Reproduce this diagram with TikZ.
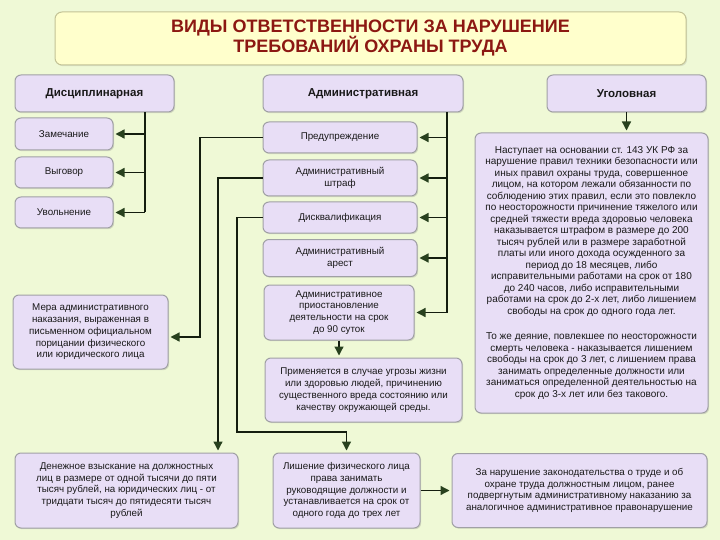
\documentclass[tikz,border=0pt]{standalone}
\usepackage{fontspec}
\setmainfont{Liberation Sans}
\usetikzlibrary{arrows.meta,shadows}
\definecolor{bgc}{RGB}{239,249,214}
\definecolor{titlefill}{RGB}{255,255,204}
\definecolor{titleborder}{RGB}{195,195,150}
\definecolor{titletext}{RGB}{140,24,18}
\definecolor{boxfill}{RGB}{232,222,246}
\definecolor{boxborder}{RGB}{160,160,165}
\definecolor{linec}{RGB}{20,30,15}
\definecolor{arrowc}{RGB}{40,65,30}
\definecolor{textc}{RGB}{25,25,25}
\tikzset{
  box/.style={draw=boxborder, fill=boxfill, line width=1pt, rounded corners=6pt,
    align=center, inner sep=0pt, text=textc,
    drop shadow={shadow xshift=1.2pt, shadow yshift=-1.2pt, opacity=0.25},
    font=\fontsize{9.8}{11.8}\selectfont},
  headbox/.style={box, font=\fontsize{11.5}{13}\selectfont\bfseries},
  titlebox/.style={draw=titleborder, fill=titlefill, line width=1pt, rounded corners=7pt,
    align=center, inner sep=0pt, text=titletext,
    drop shadow={shadow xshift=1.2pt, shadow yshift=-1.2pt, opacity=0.2},
    font=\fontsize{18}{20}\selectfont\bfseries},
  wire/.style={draw=linec, line width=1.3pt},
  arr/.style={wire, -{Triangle[length=9pt,width=9pt,color=arrowc]}, shorten >=2pt},
}
\begin{document}
\begin{tikzpicture}[x=1pt,y=-1pt]
\useasboundingbox (0,0) rectangle (720,540);
\fill[bgc] (0,0) rectangle (720,540);

% title
\node[titlebox, minimum width=631pt, minimum height=53pt] (title) at (370.5,38.5)
  {ВИДЫ ОТВЕТСТВЕННОСТИ ЗА НАРУШЕНИЕ\\ТРЕБОВАНИЙ ОХРАНЫ ТРУДА};

% headers
\node[headbox, minimum width=159pt, minimum height=37pt] (disc) at (94.5,93.5) {Дисциплинарная};
\node[headbox, minimum width=200pt, minimum height=37pt] (adm) at (363,93.5) {Административная};
\node[headbox, minimum width=159pt, minimum height=37pt] (ugol) at (626.5,93.5) {Уголовная};

% disciplinary
\node[box, minimum width=98pt, minimum height=32pt] (zam) at (64,134) {Замечание};
\node[box, minimum width=98pt, minimum height=31pt] (vyg) at (64,172.5) {Выговор};
\node[box, minimum width=98pt, minimum height=31pt] (uvol) at (64,212.5) {Увольнение};

% administrative
\node[box, minimum width=154pt, minimum height=31pt] (pred) at (340,137.5) {Предупреждение};
\node[box, minimum width=154pt, minimum height=36pt] (shtraf) at (340,178) {Административный\\штраф};
\node[box, minimum width=154pt, minimum height=31pt] (disk) at (340,217.5) {Дисквалификация};
\node[box, minimum width=154pt, minimum height=37pt] (arest) at (340,258) {Административный\\арест};
\node[box, minimum width=150pt, minimum height=55pt] (priost) at (339,312.5)
  {Административное\\приостановление\\деятельности на срок\\до 90 суток};
\node[box, minimum width=197pt, minimum height=64pt] (primen) at (363.5,390)
  {Применяется в случае угрозы жизни\\или здоровью людей, причинению\\существенного вреда состоянию или\\качеству окружающей среды.};

\node[box, minimum width=155pt, minimum height=74pt] (mera) at (90.5,332)
  {Мера административного\\наказания, выраженная в\\письменном официальном\\порицании физического\\или юридического лица};

% criminal
\node[box, minimum width=233pt, minimum height=280pt, font=\fontsize{10}{11.5}\selectfont] (big) at (591.5,273)
  {Наступает на основании ст. 143 УК РФ за\\
   нарушение правил техники безопасности или\\
   иных правил охраны труда, совершенное\\
   лицом, на котором лежали обязанности по\\
   соблюдению этих правил, если это повлекло\\
   по неосторожности причинение тяжелого или\\
   средней тяжести вреда здоровью человека\\
   наказывается штрафом в размере до 200\\
   тысяч рублей или в размере заработной\\
   платы или иного дохода осужденного за\\
   период до 18 месяцев, либо\\
   исправительными работами на срок от 180\\
   до 240 часов, либо исправительными\\
   работами на срок до 2-х лет, либо лишением\\
   свободы на срок до одного года лет.\\[14pt]
   То же деяние, повлекшее по неосторожности\\
   смерть человека - наказывается лишением\\
   свободы на срок до 3 лет, с лишением права\\
   занимать определенные должности или\\
   заниматься определенной деятельностью на\\
   срок до 3-х лет или без такового.};

% bottom row
\node[box, minimum width=223pt, minimum height=75pt] (den) at (126.5,490.5)
  {Денежное взыскание на должностных\\лиц в размере от одной тысячи до пяти\\тысяч рублей, на юридических лиц - от\\тридцати тысяч до пятидесяти тысяч\\рублей};
\node[box, minimum width=147pt, minimum height=75pt] (lish) at (346.5,490.5)
  {Лишение физического лица\\права занимать\\руководящие должности и\\устанавливается на срок от\\одного года до трех лет};
\node[box, minimum width=255pt, minimum height=74pt] (za) at (579.5,490.5)
  {За нарушение законодательства о труде и об\\охране труда должностным лицом, ранее\\подвергнутым административному наказанию за\\аналогичное административное правонарушение};

% bus coordinates
\coordinate (busDisc) at (145,0);
\coordinate (busAdm) at (447,0);
\coordinate (busP) at (200,0);
\coordinate (busS) at (218,0);
\coordinate (busD) at (237,0);
\coordinate (turnD) at (0,432);
\coordinate (meraIn) at ([yshift=-5pt]mera.east);

% disciplinary connectors
\draw[wire] (disc.south -| busDisc) -- (uvol.east -| busDisc);
\draw[arr] (zam.east -| busDisc) -- (zam.east);
\draw[arr] (vyg.east -| busDisc) -- (vyg.east);
\draw[arr] (uvol.east -| busDisc) -- (uvol.east);

% administrative connectors
\draw[wire] (adm.south -| busAdm) -- (priost.east -| busAdm);
\draw[arr] (pred.east -| busAdm) -- (pred.east);
\draw[arr] (shtraf.east -| busAdm) -- (shtraf.east);
\draw[arr] (disk.east -| busAdm) -- (disk.east);
\draw[arr] (arest.east -| busAdm) -- (arest.east);
\draw[arr] (priost.east -| busAdm) -- (priost.east);
\draw[arr] (priost.south) -- (priost.south |- primen.north);

\draw[arr] (pred.west) -- (pred.west -| busP) |- (meraIn);
\draw[arr] (shtraf.west) -| (den.north -| busS);
\draw[arr] (disk.west) -| (busD |- turnD) -| (lish.north);
\draw[arr] (lish.east) -- (za.west);

% criminal connector
\draw[arr] (ugol.south) -- (ugol.south |- big.north);
\end{tikzpicture}
\end{document}
